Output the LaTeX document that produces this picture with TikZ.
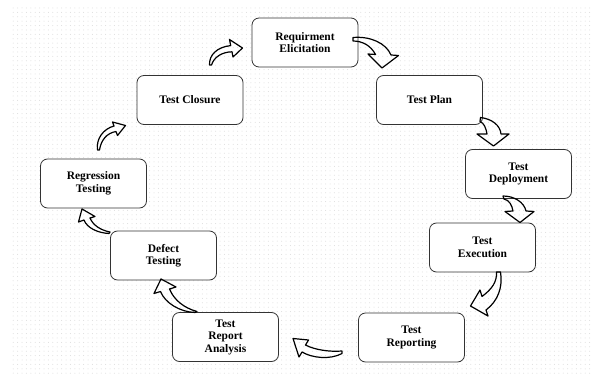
\documentclass[tikz,border=0pt]{standalone}
\usepackage{fontspec}
\setmainfont{Liberation Serif}
\usetikzlibrary{patterns.meta}

% faint dotted backdrop
\tikzdeclarepattern{
  name=griddots,
  type=uncolored,
  bottom left={(-1pt,-1pt)},
  top right={(1pt,1pt)},
  tile size={(4.4pt,4.4pt)},
  code={\fill (0pt,0pt) circle (0.5pt);}
}

\begin{document}
\begin{tikzpicture}[x=1pt,y=-1pt,
  stage/.style={draw=black!80, line width=0.8pt, rounded corners=7pt,
    fill=white, minimum width=106pt, minimum height=49pt, inner sep=0pt,
    align=center, font=\fontsize{11.5}{12.5}\selectfont\bfseries},
  bendarrow/.style={draw=black, line width=1.2pt, line join=round}]

\useasboundingbox (0,0) rectangle (601,382);
\fill[white] (0,0) rectangle (601,382);
\fill[pattern=griddots, pattern color=black!14] (12,8) rectangle (592,374);

% process stages
\node[stage] (req)        at (305,42.5)  {Requirment\\Elicitation};
\node[stage] (plan)       at (429.5,100) {Test Plan};
\node[stage] (deploy)     at (518.5,174) {Test\\Deployment};
\node[stage] (exec)       at (482.5,247.5) {Test\\Execution};
\node[stage] (reporting)  at (411.5,337.5) {Test\\Reporting};
\node[stage] (analysis)   at (225.5,337) {Test\\Report\\Analysis};
\node[stage] (defect)     at (163.5,255.5) {Defect\\Testing};
\node[stage] (regression) at (93.5,183.5) {Regression\\Testing};
\node[stage] (closure)    at (190,100)   {Test Closure};

% curved block arrows between the stages
% closure -> req
\draw[bendarrow] (209.5,65) .. controls (209,55) and (217,47) .. (230.7,45.6)
  -- (229.5,39.5) -- (242.5,48) -- (233,57) -- (232,51.8)
  .. controls (222,52) and (214,57) .. (211.5,65) -- cycle;
% regression -> closure
\draw[bendarrow] (97.5,150) .. controls (96,139) and (103,129) .. (114,126)
  -- (112.5,122) -- (125.5,125.5) -- (117.5,135.5) -- (116,131.5)
  .. controls (107,133) and (101,140) .. (99.5,150) -- cycle;
% req -> plan
\draw[bendarrow] (353,37.5) .. controls (370,36) and (386,43) .. (391,55)
  -- (398.5,55.5) -- (382,68) -- (368,54) -- (375.5,54.5)
  .. controls (371,46) and (363,41) .. (353,41) -- cycle;
% plan -> deploy
\draw[bendarrow] (480.5,117.5) .. controls (492,119) and (500,125) .. (501,134)
  -- (509,134) -- (493.5,146) -- (477,134) -- (487,134)
  .. controls (486,128) and (484,123) .. (480,121.5) -- cycle;
% deploy -> exec
\draw[bendarrow] (503,196) .. controls (514,196) and (524,202) .. (526,211)
  -- (534,211.5) -- (520,222.5) -- (505,211.5) -- (513,211)
  .. controls (512,205) and (509,200) .. (504,199) -- cycle;
% exec -> reporting
\draw[bendarrow] (500.5,272) .. controls (503,287) and (498,301) .. (486,310)
  -- (488,316) -- (470.5,306) -- (480,290) -- (482,296.5)
  .. controls (492,289) and (497,282) .. (496.5,272) -- cycle;
% reporting -> analysis
\draw[bendarrow] (342,351) .. controls (330,352) and (315,350) .. (305.5,345)
  -- (308.5,340) -- (293,338.5) -- (299,357) -- (302,352)
  .. controls (312,358) and (330,360) .. (342,353.5) -- cycle;
% analysis -> defect
\draw[bendarrow] (197,311.5) .. controls (184,308) and (174,300) .. (169.5,289)
  -- (176,287) -- (161,279) -- (154,293.5) -- (160.5,291.5)
  .. controls (165,303) and (180,312) .. (195,312.5) -- cycle;
% defect -> regression
\draw[bendarrow] (110,232) .. controls (100,230) and (93,225) .. (90,218)
  -- (95,216.5) -- (82,209) -- (78.5,222) -- (84,220)
  .. controls (87,228) and (98,233) .. (109,233.5) -- cycle;
\end{tikzpicture}
\end{document}
